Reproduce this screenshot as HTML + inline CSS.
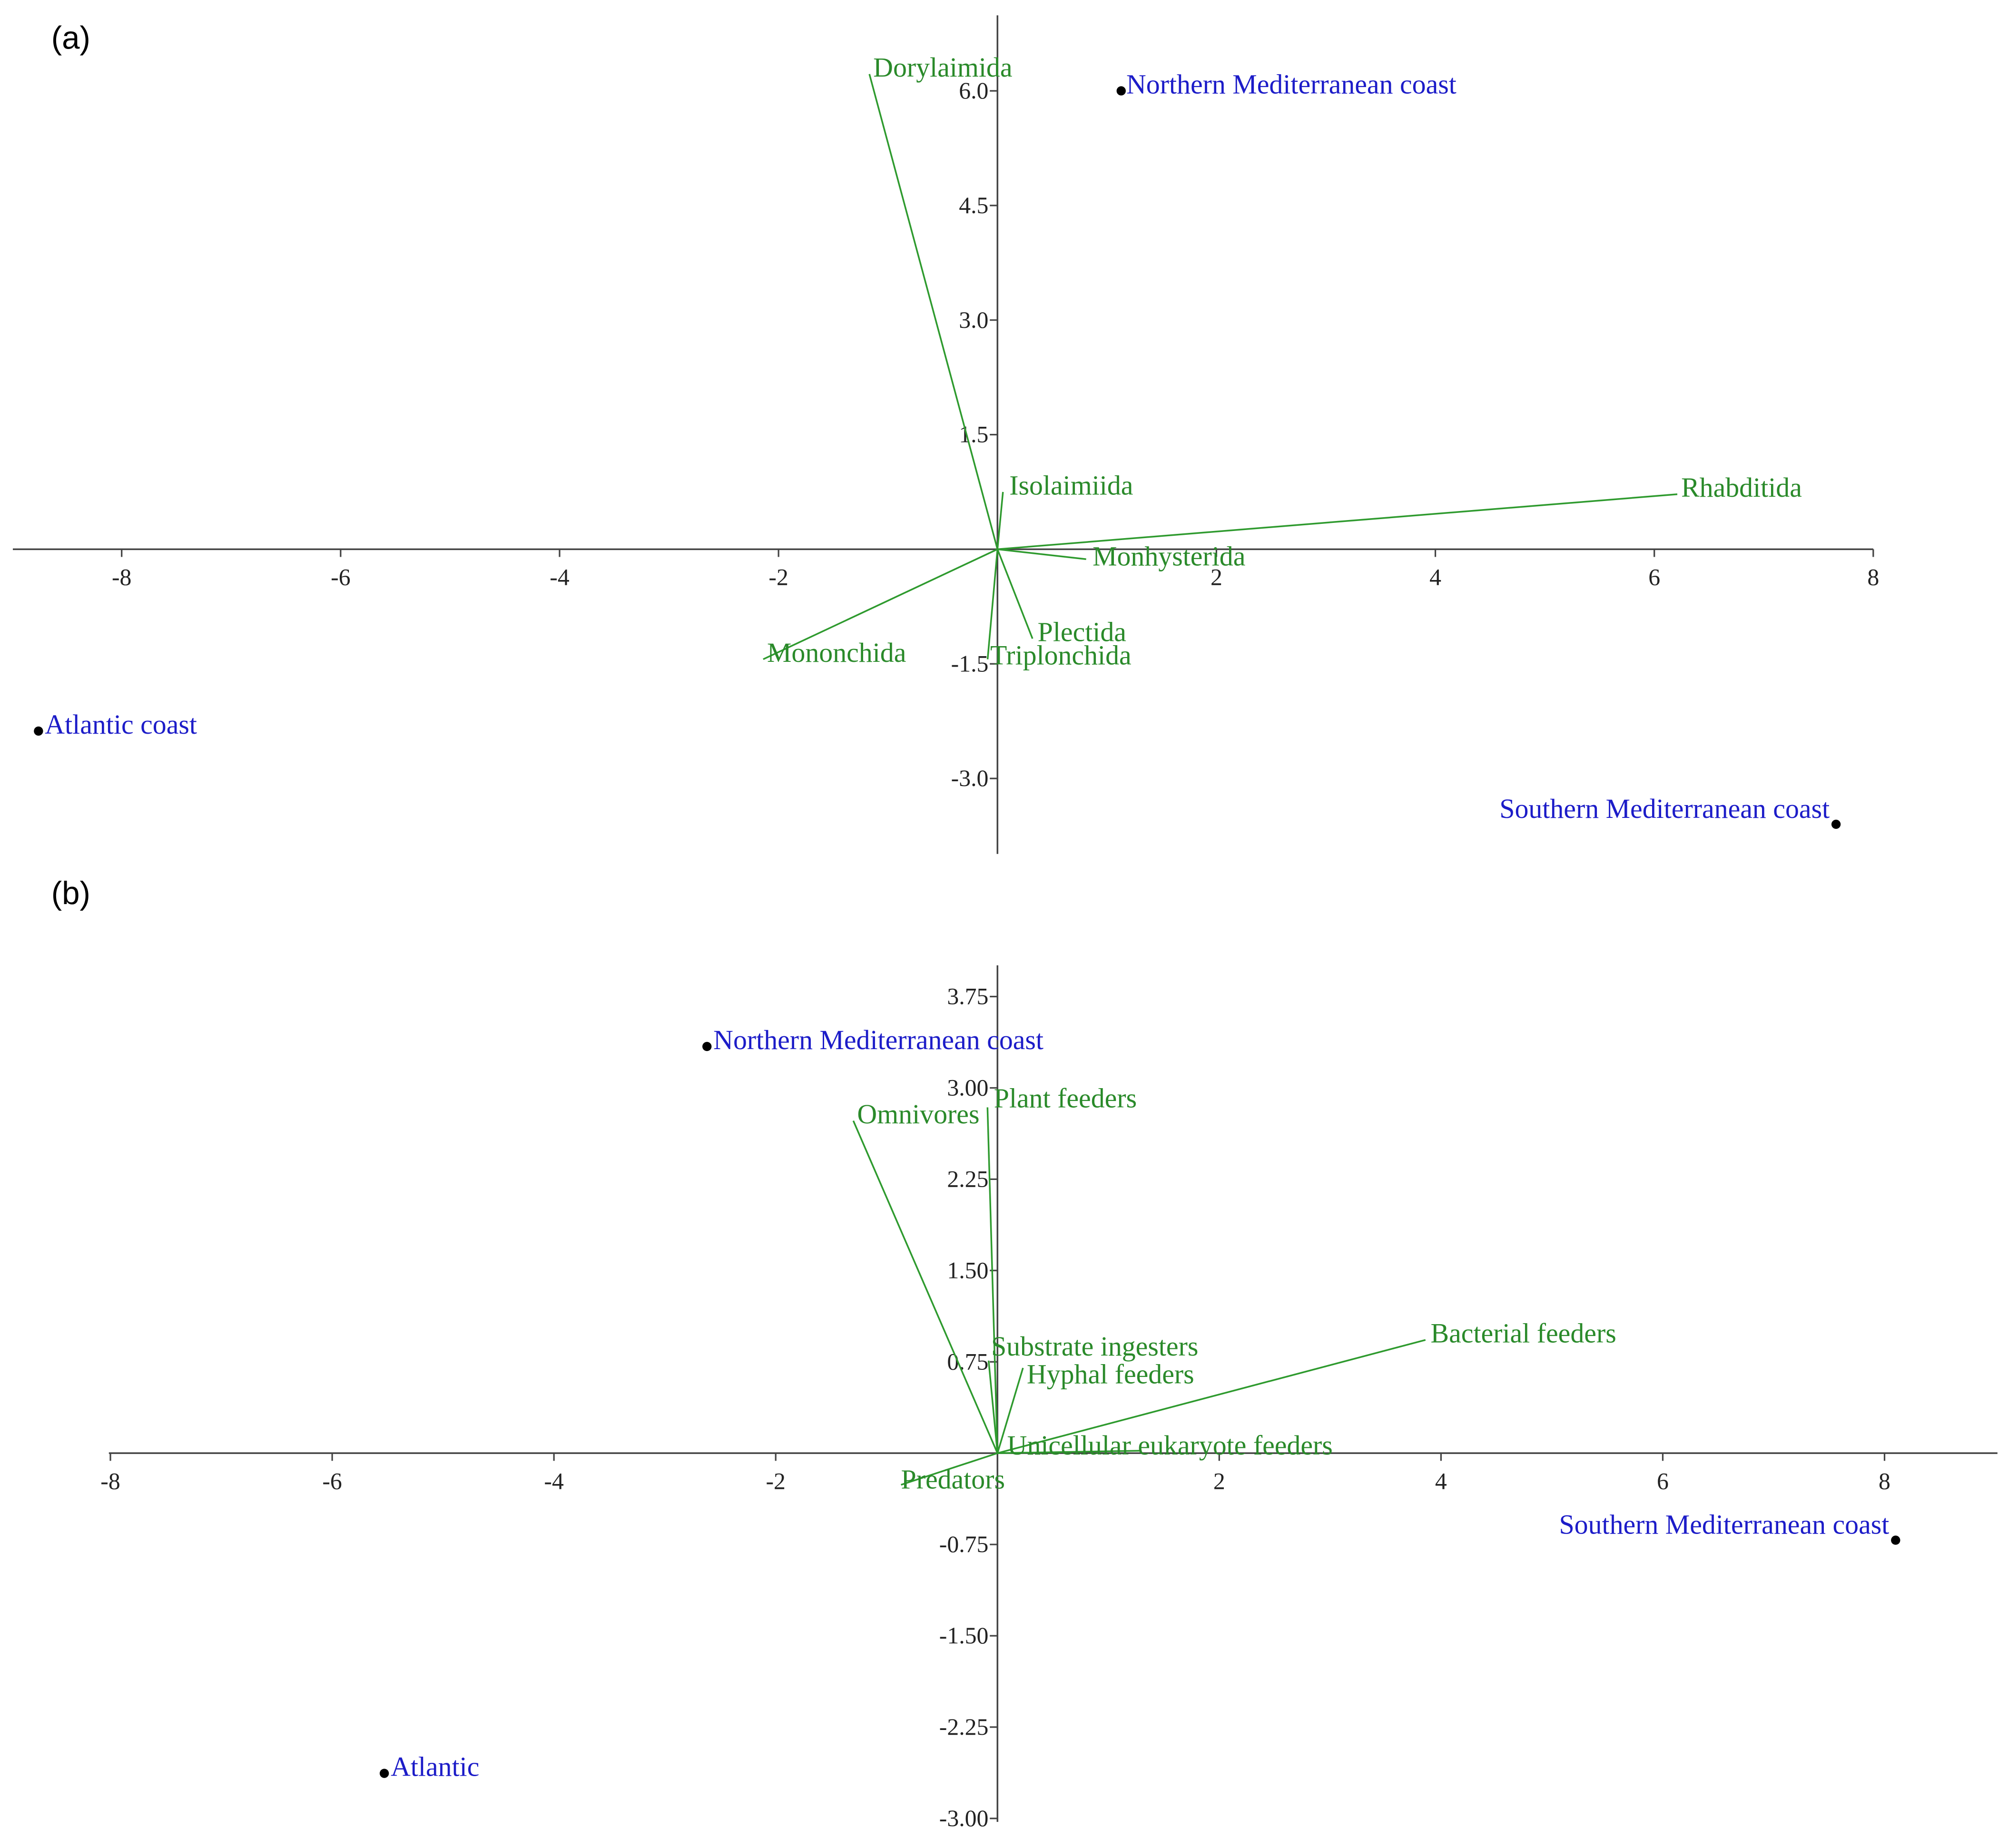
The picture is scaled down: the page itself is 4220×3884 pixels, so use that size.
<!DOCTYPE html>
<html><head><meta charset="utf-8"><style>
html,body{margin:0;padding:0;background:#fff;}
svg{display:block;}
</style></head><body>
<svg id="chart" width="4220" height="3884" viewBox="0 0 1568.2 1443.4" xmlns="http://www.w3.org/2000/svg" font-family="Liberation Serif, serif">
<rect x="0" y="0" width="1568.2" height="1443.4" fill="#fff"/>
<text x="40" y="38" font-family="Liberation Sans, sans-serif" font-size="25" fill="#000">(a)</text>
<text x="40" y="706" font-family="Liberation Sans, sans-serif" font-size="25" fill="#000">(b)</text>
</svg>
<script>
// Panel A data
const aTicksX = [-8,-6,-4,-2,2,4,6,8];
const aTicksY = [6.0,4.5,3.0,1.5,-1.5,-3.0];
const aSites = ["Northern Mediterranean coast","Atlantic coast","Southern Mediterranean coast"];
const aSiteX = [1.13,-8.76,7.66];
const aSiteY = [6.0,-2.38,-3.6];
const aVars = ["Dorylaimida","Isolaimiida","Rhabditida","Monhysterida","Plectida","Triplonchida","Mononchida"];
const aVarX = [-1.17,0.05,6.21,0.81,0.32,-0.09,-2.14];
const aVarY = [6.22,0.75,0.72,-0.13,-1.17,-1.44,-1.44];
// Panel B data
const bTicksX = [-8,-6,-4,-2,2,4,6,8];
const bTicksY = [3.75,3.00,2.25,1.50,0.75,-0.75,-1.50,-2.25,-3.00];
const bSites = ["Northern Mediterranean coast","Atlantic","Southern Mediterranean coast"];
const bSiteX = [-2.62,-5.53,8.1];
const bSiteY = [3.34,-2.63,-0.715];
const bVars = ["Omnivores","Plant feeders","Substrate ingesters","Hyphal feeders","Bacterial feeders","Unicellular  eukaryote feeders","Predators"];
const bVarX = [-1.30,-0.09,-0.08,0.23,3.86,1.3,-0.87];
const bVarY = [2.73,2.84,0.76,0.70,0.93,0.02,-0.26];

const NS="http://www.w3.org/2000/svg";
const svg=document.getElementById('chart');
function el(tag,attrs,text){const e=document.createElementNS(NS,tag);for(const k in attrs)e.setAttribute(k,attrs[k]);if(text!==undefined)e.textContent=text;svg.appendChild(e);return e;}

function panel(p){
  const sx=v=>p.x0+v*p.ux, sy=v=>p.y0-v*p.uy;
  let e;
  e=el('line',{x1:p.axL,y1:p.y0,x2:p.axR,y2:p.y0,stroke:'#444','stroke-width':1.3});
  
  
  e=el('line',{x1:p.x0,y1:p.axT,x2:p.x0,y2:p.axB,stroke:'#444','stroke-width':1.3});
  
  
  p.tx.forEach(t=>{
    el('line',{x1:sx(t),y1:p.y0,x2:sx(t),y2:p.y0+6,stroke:'#444','stroke-width':1.2});
    e=el('text',{x:sx(t),y:p.y0+28,'text-anchor':'middle','font-size':18.5,fill:'#222'},String(t));
    
    
  });
  p.ty.forEach(t=>{
    el('line',{x1:p.x0-6,y1:sy(t),x2:p.x0,y2:sy(t),stroke:'#444','stroke-width':1.2});
    e=el('text',{x:p.x0-7,y:sy(t)+6,'text-anchor':'end','font-size':18.5,fill:'#222'},t.toFixed(p.dec));
    
    
  });
  p.vars.forEach((n,i)=>{
    const x=sx(p.vx[i]),y=sy(p.vy[i]);
    e=el('line',{x1:p.x0,y1:p.y0,x2:x,y2:y,stroke:'#2e9a2e','stroke-width':1.3});
    
    
    const o=p.voff[i];
    e=el('text',{x:x+o[0],y:y+o[1],'font-size':21.5,fill:'#2a8a2a'},n);
    
    
  });
  p.sites.forEach((n,i)=>{
    const x=sx(p.px[i]),y=sy(p.py[i]);
    e=el('circle',{cx:x,cy:y,r:3.6,fill:'#000'});
    
    
    const o=p.poff[i];
    e=el('text',{x:x+o[0],y:y+o[1],'font-size':21.5,fill:'#1c1cc8','text-anchor':o[2]},n);
    
    
  });
}
panel({id:'a',x0:779,y0:429,ux:85.5,uy:59.67,axL:10,axR:1463,axT:12,axB:667,tx:aTicksX,ty:aTicksY,dec:1,
  vars:aVars,vx:aVarX,vy:aVarY,
  voff:[[3,2],[5,2],[3,2],[5,5],[4,2],[2,4],[3,2]],
  sites:aSites,px:aSiteX,py:aSiteY,
  poff:[[4,2,'start'],[5,2,'start'],[-5,-5,'end']]});
panel({id:'b',x0:779,y0:1135,ux:86.6,uy:95.1,axL:85,axR:1560,axT:754,axB:1423,tx:bTicksX,ty:bTicksY,dec:2,
  vars:bVars,vx:bVarX,vy:bVarY,
  voff:[[3,2],[5,0],[2,-4],[3,12],[4,2],[-105,3],[0,3]],
  sites:bSites,px:bSiteX,py:bSiteY,
  poff:[[5,2,'start'],[5,2,'start'],[-5,-5,'end']]});
</script>
</body></html>
